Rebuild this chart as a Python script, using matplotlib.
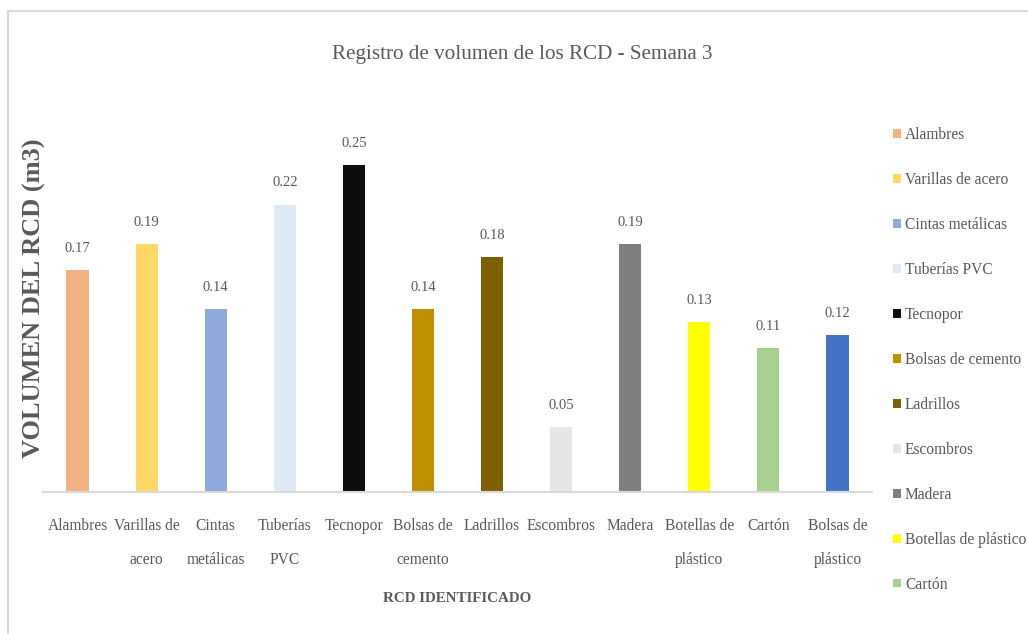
import matplotlib
matplotlib.use("Agg")
import matplotlib.pyplot as plt
from matplotlib.patches import Rectangle, Patch

categories = ["Alambres", "Varillas de acero", "Cintas metálicas", "Tuberías PVC",
              "Tecnopor", "Bolsas de cemento", "Ladrillos", "Escombros", "Madera",
              "Botellas de plástico", "Cartón", "Bolsas de plástico"]
tick_labels = ["Alambres", "Varillas de\nacero", "Cintas\nmetálicas", "Tuberías\nPVC",
               "Tecnopor", "Bolsas de\ncemento", "Ladrillos", "Escombros", "Madera",
               "Botellas de\nplástico", "Cartón", "Bolsas de\nplástico"]
values = [0.17, 0.19, 0.14, 0.22, 0.25, 0.14, 0.18, 0.05, 0.19, 0.13, 0.11, 0.12]
colors = ["#F4B183", "#FFD966", "#8FAADC", "#DEEBF7", "#0D0D0D", "#BF9000",
          "#7F6000", "#E7E6E6", "#7F7F7F", "#FFFF00", "#A9D18E", "#4472C4"]

TXT = "#595959"
plt.rcParams['font.family'] = ['Liberation Serif', 'DejaVu Serif']

fig = plt.figure(figsize=(10.28, 6.34), dpi=100)
# outer chart border
fig.patches.append(Rectangle((8/1028, -0.01), 1.1, (634-11)/634 + 0.01,
                             transform=fig.transFigure, fill=False,
                             edgecolor="#D9D9D9", linewidth=1.5))

ax = fig.add_axes([43/1028, (634-492)/634, (872-43)/1028, (492-100)/634])
x = list(range(len(categories)))
bars = ax.bar(x, values, width=0.32, color=colors)
ax.set_ylim(0, 0.3)
ax.set_xlim(-0.5, len(categories) - 0.5)

for xi, v in zip(x, values):
    ax.annotate(f"{v:.2f}", (xi, v), xytext=(0, 13), textcoords="offset points",
                ha="center", va="baseline", fontsize=10.5, color=TXT)

for s in ["top", "right", "left"]:
    ax.spines[s].set_visible(False)
ax.spines["bottom"].set_color("#D9D9D9")
ax.spines["bottom"].set_linewidth(1.5)
ax.set_yticks([])
ax.set_xticks(x)
ax.set_xticklabels(tick_labels, fontsize=11.2, color=TXT, linespacing=2.5)
ax.tick_params(axis="x", length=0, pad=19)

ax.set_xlabel("RCD IDENTIFICADO", fontsize=10.8, fontweight="bold", color=TXT, labelpad=17)
fig.text(34/1028, 1 - 298/634, "VOLUMEN DEL RCD (m3)", rotation=90, fontsize=19,
         fontweight="bold", color=TXT, ha="center", va="center")
fig.text(522/1028, 1 - 55/634, "Registro de volumen de los RCD - Semana 3",
         fontsize=15.2, color=TXT, ha="center", va="center")

handles = [Patch(facecolor=c, edgecolor="none") for c in colors[:11]]
leg = fig.legend(handles, categories[:11], loc="upper left",
                 bbox_to_anchor=(887/1028, 1 - 121/634), frameon=False,
                 fontsize=11.2, handlelength=0.5, handleheight=0.5,
                 handletextpad=0.25, labelspacing=1.86, borderaxespad=0)
for t in leg.get_texts():
    t.set_color(TXT)

fig.savefig("out.png", dpi=100)
